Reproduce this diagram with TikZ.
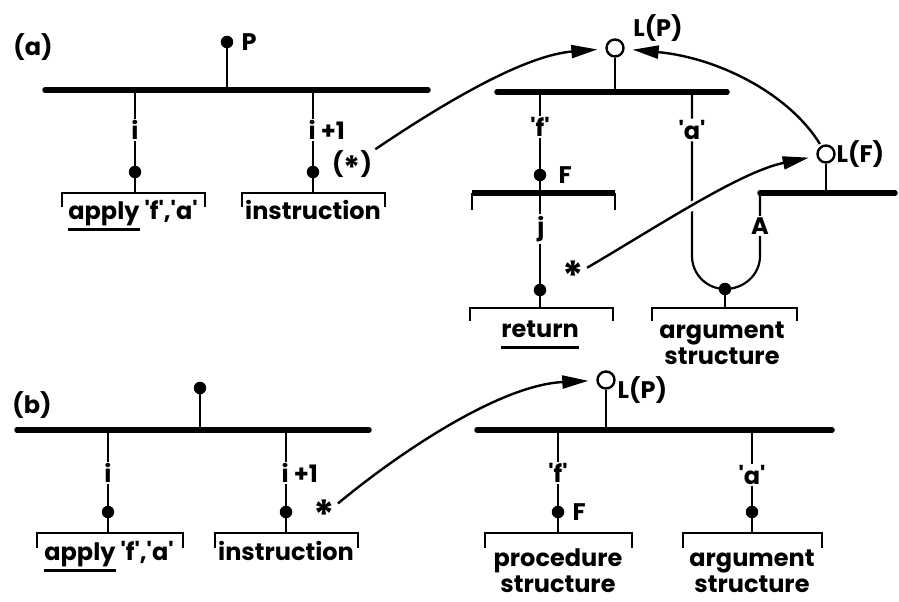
\documentclass[tikz,border=0pt]{standalone}
\usepackage{fontspec}
\setmainfont{Poppins}
\usetikzlibrary{arrows.meta,positioning}
\newcommand{\ulword}[1]{\vtop{\hbox{\vphantom{p}#1}\kern3pt\hrule height 2.6pt}}
\newcommand{\qt}[1]{\textquotesingle#1\textquotesingle}
\newcommand{\bigast}{\raisebox{-.45em}{\fontsize{40}{40}\selectfont *}}

\begin{document}
\begin{tikzpicture}[x=1pt,y=-1pt,
  bar/.style={line width=5.5pt,line cap=round},
  stem/.style={line width=2.2pt},
  brk/.style={line width=2.5pt},
  dot/.style={circle,fill,inner sep=0pt,minimum size=12.5pt},
  ring/.style={circle,draw,fill=white,line width=2.4pt,inner sep=0pt,minimum size=17pt},
  lbl/.style={font=\fontsize{24}{26}\bfseries,inner sep=1.5pt},
  txt/.style={font=\fontsize{24}{26}\bfseries,align=center,inner sep=0pt},
  arr/.style={-{Triangle[length=26pt,width=13pt]},line width=2.4pt,shorten >=8pt,shorten <=2pt}]
  \useasboundingbox (0,0) rectangle (899,602);
  % (a) the call record P
  \node[lbl] (la) at (33,47) {(a)};
  \coordinate (aL) at (45,90);
  \coordinate (aR) at (428,90);
  \draw[bar] (aL) -- (aR);
  \node[dot] (pdot) at (227,42) {};
  \node[lbl,anchor=west] (plab) at (240,42) {P};
  \draw[stem] (pdot) -- (pdot |- aL);
  % slot i
  \coordinate (ai) at (135,90);
  \node[lbl] (ailab) at (135,130) {i};
  \node[dot] (aidot) at (135,172) {};
  \coordinate (aitop) at (135,193);
  \draw[stem] (ai) -- (ailab.north) (ailab.south) -- (aidot) -- (aitop);
  \draw[brk] (62,207) |- (205,193) -- (205,207);
  \node[txt,anchor=base] (aitxt) at (133,219) {\ulword{apply} \qt{f},\qt{a}};
  % slot i+1
  \coordinate (aii) at (313,90);
  \node[lbl,anchor=west] (aiilab) at (307,130) {i\hspace{5pt}+1};
  \node[dot] (aiidot) at (313,172) {};
  \coordinate (aiitop) at (313,193);
  \draw[stem] (aii) -- (aii |- aiilab.north) (aii |- aiilab.south) -- (aiidot) -- (aiitop);
  \draw[brk] (242,207) |- (385,193) -- (385,207);
  \node[txt,anchor=base] (aiitxt) at (313,219) {instruction};
  \node[lbl] (aast) at (352,165) {(\raisebox{-.3em}{\fontsize{32}{32}\selectfont *})};
  % record L(P)
  \node[ring] (lpa) at (615,48) {};
  \node[lbl] (lpalab) at (658,28) {L(P)};
  \coordinate (bL) at (497,92);
  \coordinate (bR) at (727,92);
  \draw[bar] (bL) -- (bR);
  \draw[stem] (lpa) -- (lpa |- bL);
  % slot 'f'
  \coordinate (bf) at (540,92);
  \node[lbl] (bflab) at (540,127) {\qt{f}};
  \node[dot] (fdot) at (540,175) {};
  \node[lbl,anchor=west] (flab) at (557,175) {F};
  \coordinate (fbar) at (540,193);
  \draw[stem] (bf) -- (bflab.north) (bflab.south) -- (fdot) -- (fbar);
  % procedure F
  \draw[bar,line cap=butt] (472,193) -- (615,193);
  \draw[brk] (472,193) -- (472,210) (615,193) -- (615,210);
  \node[lbl] (jlab) at (541,229) {j};
  \node[dot] (rdot) at (540,290) {};
  \coordinate (rtop) at (540,308);
  \draw[stem] (fbar) -- (fbar |- jlab.north) (fbar |- jlab.south) -- (rdot) -- (rtop);
  \draw[brk] (470,321) |- (613,308) -- (613,321);
  \node[txt,anchor=base] (rtxt) at (540,337) {\ulword{return}};
  \node[lbl] (rast) at (573,276) {\bigast};
  % slot 'a' and the argument structure
  \coordinate (ba) at (692,92);
  \node[lbl] (balab) at (692,130) {\qt{a}};
  \node[dot] (udot) at (725,289) {};
  \coordinate (uL) at (692,256);
  \coordinate (uR) at (760,256);
  \coordinate (dL) at (760,193);
  \coordinate (dR) at (895,193);
  \draw[bar] (dL) -- (dR);
  \node[lbl] (alab) at (760,226) {A};
  \draw[stem] (ba) -- (balab.north) (balab.south) -- (uL) to[out=-90,in=180] (udot.center)
    to[out=0,in=-90] (uR) -- (alab.south) (alab.north) -- (dL);
  \coordinate (utop) at (725,308);
  \draw[stem] (udot) -- (utop);
  \draw[brk] (652,321) |- (797,308) -- (797,321);
  \node[txt] (utxt) at (722,343) {argument\\structure};
  % record L(F)
  \node[ring] (lf) at (826,154) {};
  \node[lbl,anchor=west] (lflab) at (835,154) {L(F)};
  \draw[stem] (lf) -- (lf |- dL);
  % links
  \draw[arr] (aast) .. controls (460,92) and (530,55) .. (lpa);
  \draw[arr,preaction={draw=white,line width=9pt,-}] (rast) .. controls (660,225) and (740,172) .. (lf);
  \draw[arr] (lf) .. controls (790,95) and (720,58) .. (lpa);
  % (b) the call record
  \node[lbl] (lb) at (32,405) {(b)};
  \coordinate (eL) at (17,430);
  \coordinate (eR) at (369,430);
  \draw[bar] (eL) -- (eR);
  \node[dot] (tdot) at (200,388) {};
  \draw[stem] (tdot) -- (tdot |- eL);
  % slot i
  \coordinate (ei) at (108,430);
  \node[lbl] (eilab) at (108,473) {i};
  \node[dot] (eidot) at (108,512) {};
  \coordinate (eitop) at (108,533);
  \draw[stem] (ei) -- (eilab.north) (eilab.south) -- (eidot) -- (eitop);
  \draw[brk] (37,548) |- (183,533) -- (183,548);
  \node[txt,anchor=base] (eitxt) at (109,560) {\ulword{apply} \qt{f},\qt{a}};
  % slot i+1
  \coordinate (eii) at (286,430);
  \node[lbl,anchor=west] (eiilab) at (280,473) {i\hspace{5pt}+1};
  \node[dot] (eiidot) at (286,512) {};
  \coordinate (eiitop) at (286,533);
  \draw[stem] (eii) -- (eii |- eiilab.north) (eii |- eiilab.south) -- (eiidot) -- (eiitop);
  \draw[brk] (215,548) |- (358,533) -- (358,548);
  \node[txt,anchor=base] (eiitxt) at (286,560) {instruction};
  \node[lbl] (bst) at (324,515) {\bigast};
  % record L(P)
  \node[ring] (lpb) at (606,380) {};
  \node[lbl,anchor=west] (lpblab) at (616,390) {L(P)};
  \coordinate (fL) at (477,430);
  \coordinate (fR) at (832,430);
  \draw[bar] (fL) -- (fR);
  \draw[stem] (lpb) -- (lpb |- fL);
  % slot 'f'
  \coordinate (ff) at (558,430);
  \node[lbl] (fflab) at (558,473) {\qt{f}};
  \node[dot] (ffdot) at (558,512) {};
  \node[lbl,anchor=west] (fflab2) at (571,512) {F};
  \coordinate (fftop) at (558,533);
  \draw[stem] (ff) -- (fflab.north) (fflab.south) -- (ffdot) -- (fftop);
  \draw[brk] (485,548) |- (632,533) -- (632,548);
  \node[txt] (fftxt) at (558,571) {procedure\\structure};
  % slot 'a'
  \coordinate (fa) at (752,430);
  \node[lbl] (falab) at (752,475) {\qt{a}};
  \node[dot] (fadot) at (752,512) {};
  \coordinate (fatop) at (752,533);
  \draw[stem] (fa) -- (falab.north) (falab.south) -- (fadot) -- (fatop);
  \draw[brk] (683,548) |- (822,533) -- (822,548);
  \node[txt] (fatxt) at (752,571) {argument\\structure};
  % link
  \draw[arr] (bst) .. controls (400,452) and (500,385) .. (lpb);
\end{tikzpicture}
\end{document}
